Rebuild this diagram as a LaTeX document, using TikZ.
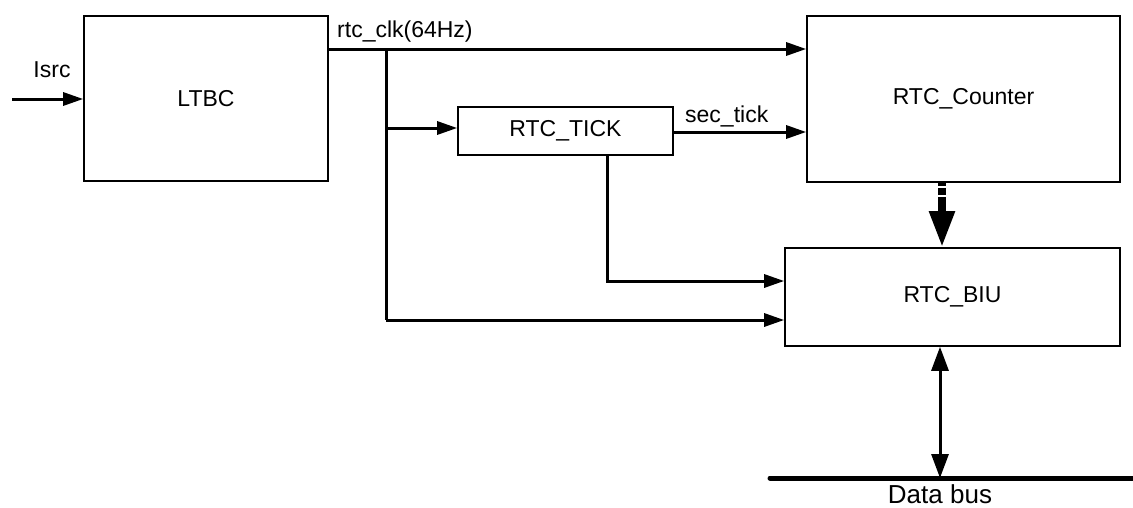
\documentclass[tikz,border=0pt]{standalone}
\usepackage{fontspec}
\setmainfont{Liberation Sans}
\usetikzlibrary{arrows.meta}
\tikzset{
  blk/.style={draw, line width=1.6pt, inner sep=0pt, font=\fontsize{23}{27}\selectfont},
  conn/.style={line width=3pt},
  tipa/.style={-{Triangle[length=20pt,width=13pt]}},
  lbl/.style={inner sep=0pt, font=\fontsize{23}{27}\selectfont},
}
\begin{document}
\begin{tikzpicture}[x=1pt,y=-1pt]
\useasboundingbox (0,0) rectangle (1133,507);
% blocks
\node[blk, minimum width=244pt, minimum height=165pt] (ltbc) at (206,98.5) {LTBC};
\node[blk, minimum width=313pt, minimum height=166pt] (counter) at (963.5,99) {RTC\_Counter};
\node[blk, minimum width=215pt, minimum height=48pt] (tick) at (565.5,131) {RTC\_TICK};
\node[blk, minimum width=335pt, minimum height=98pt] (biu) at (952.5,297) {RTC\_BIU};
% helper coordinates
\coordinate (lsrcin) at (12,99);
\coordinate (j1) at (386,49);
\coordinate (j2) at (386,128);
\coordinate (j3) at (386,320);
\coordinate (y132) at (0,132);
\coordinate (tk) at (607,0);
\coordinate (y281) at (0,281);
\coordinate (xc) at (942,0);
\coordinate (xb) at (940,0);
\coordinate (bus1) at (770,478);
\coordinate (bus2) at (1133,478);
% labels
\node[lbl, anchor=base] (lsrclbl) at (52,77) {Isrc};
\node[lbl, anchor=base west] (clklbl) at (337,37) {rtc\_clk(64Hz)};
\node[lbl, anchor=base west] (seclbl) at (685,122) {sec\_tick};
\node[lbl, anchor=base, font=\fontsize{26}{30}\selectfont] (buslbl) at (940,503) {Data bus};
% connectors
\draw[conn, tipa] (lsrcin) -- (lsrcin -| ltbc.west);
\draw[conn, tipa] (j1 -| ltbc.east) -- (j1 -| counter.west);
\draw[conn] (j1) -- (j3);
\draw[conn, tipa] (j2) -- (j2 -| tick.west);
\draw[conn, tipa] (j3) -- (j3 -| biu.west);
\draw[conn, tipa] (tick.east |- y132) -- (y132 -| counter.west);
\draw[conn, tipa] (tk |- tick.south) -- (tk |- y281) -- (y281 -| biu.west);
\draw[line width=8pt, dash pattern=on 3pt off 2pt on 7pt off 2pt on 200pt,
      -{Triangle[length=36pt,width=24pt]}] (xc |- counter.south) -- (xc |- biu.north);
\draw[conn, {Triangle[length=24pt,width=17pt]}-{Triangle[length=24pt,width=17pt]}]
      (xb |- biu.south) -- (xb |- bus1);
\draw[line width=5pt, line cap=round] (bus1) -- (bus2);
\end{tikzpicture}
\end{document}
